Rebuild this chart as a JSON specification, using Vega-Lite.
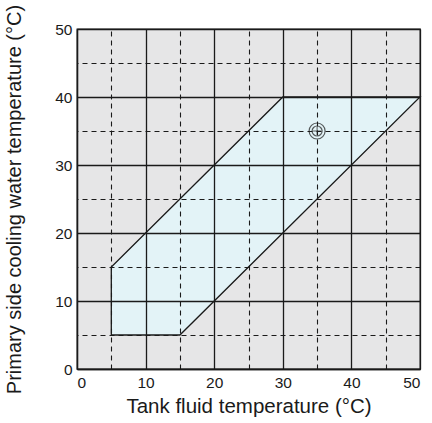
{
  "$schema": "https://vega.github.io/schema/vega-lite/v6.json",
  "width": 343,
  "height": 340,
  "autosize": {"type": "none"},
  "padding": {"left": 77, "top": 29, "right": 12, "bottom": 54},
  "background": "white",
  "config": {
    "view": {"fill": "#e6e6e7", "stroke": "#1a1a1a", "strokeWidth": 1.3},
    "font": "Liberation Sans",
    "axis": {"labelFont": "Liberation Sans", "titleFont": "Liberation Sans", "labelColor": "#1a1a1a", "titleColor": "#1a1a1a", "titleFontWeight": "normal"}
  },
  "datasets": {
    "region": [
      {"x": 5, "lo": 5, "hi": 15},
      {"x": 15, "lo": 5, "hi": 25},
      {"x": 30, "lo": 20, "hi": 40},
      {"x": 50, "lo": 40, "hi": 40}
    ],
    "outline": [
      {"o": 1, "x": 5, "y": 5},
      {"o": 2, "x": 5, "y": 15},
      {"o": 3, "x": 30, "y": 40},
      {"o": 4, "x": 50, "y": 40},
      {"o": 5, "x": 15, "y": 5},
      {"o": 6, "x": 5, "y": 5}
    ],
    "point": [{"x": 35, "y": 35}]
  },
  "layer": [
    {
      "data": {"name": "region"},
      "mark": {"type": "area", "color": "#e3f3f7", "opacity": 1},
      "encoding": {
        "x": {"field": "x", "type": "quantitative", "scale": {"domain": [0, 50], "nice": false},
          "axis": {"orient": "top", "values": [5, 15, 25, 35, 45], "labels": false, "ticks": false, "domain": false, "title": null, "zindex": 1,
            "grid": true, "gridColor": "#1a1a1a", "gridDash": [5, 4], "gridWidth": 1.1}},
        "y": {"field": "lo", "type": "quantitative", "scale": {"domain": [0, 50], "nice": false},
          "axis": {"orient": "right", "values": [5, 15, 25, 35, 45], "labels": false, "ticks": false, "domain": false, "title": null, "zindex": 1,
            "grid": true, "gridColor": "#1a1a1a", "gridDash": [5, 4], "gridWidth": 1.1}},
        "y2": {"field": "hi"}
      }
    },
    {
      "data": {"name": "outline"},
      "mark": {"type": "line", "color": "#1a1a1a", "strokeWidth": 1.3},
      "encoding": {
        "x": {"field": "x", "type": "quantitative", "scale": {"domain": [0, 50], "nice": false},
          "axis": {"orient": "bottom", "values": [0, 10, 20, 30, 40, 50], "grid": true, "gridColor": "#1a1a1a", "gridWidth": 1.3, "gridDash": [], "zindex": 1,
            "domain": true, "domainColor": "#1a1a1a", "domainWidth": 1.3, "ticks": false,
            "labelFontSize": 15.5, "labelPadding": 6, "title": "Tank fluid temperature (°C)", "titleFontSize": 20.5, "titlePadding": 6}},
        "y": {"field": "y", "type": "quantitative", "scale": {"domain": [0, 50], "nice": false},
          "axis": {"orient": "left", "values": [0, 10, 20, 30, 40, 50], "grid": true, "gridColor": "#1a1a1a", "gridWidth": 1.3, "gridDash": [], "zindex": 1,
            "domain": true, "domainColor": "#1a1a1a", "domainWidth": 1.3, "ticks": false,
            "labelFontSize": 15.5, "labelPadding": 5, "title": "Primary side cooling water temperature (°C)", "titleFontSize": 20, "titlePadding": 30}},
        "order": {"field": "o", "type": "quantitative"}
      }
    },
    {
      "data": {"name": "point"},
      "mark": {"type": "point", "filled": false, "stroke": "#1a1a1a", "strokeWidth": 1.2, "size": 256, "shape": "circle"},
      "encoding": {
        "x": {"field": "x", "type": "quantitative", "axis": null},
        "y": {"field": "y", "type": "quantitative", "axis": null}
      }
    },
    {
      "data": {"name": "point"},
      "mark": {"type": "point", "filled": false, "stroke": "#1a1a1a", "strokeWidth": 1.2, "size": 100, "shape": "circle"},
      "encoding": {
        "x": {"field": "x", "type": "quantitative", "axis": null},
        "y": {"field": "y", "type": "quantitative", "axis": null}
      }
    },
    {
      "data": {"name": "point"},
      "mark": {"type": "point", "filled": false, "stroke": "#1a1a1a", "strokeWidth": 1, "size": 64, "shape": "M-1,0L1,0M0,-1L0,1"},
      "encoding": {
        "x": {"field": "x", "type": "quantitative", "axis": null},
        "y": {"field": "y", "type": "quantitative", "axis": null}
      }
    }
  ],
  "resolve": {"axis": {"x": "independent", "y": "independent"}}
}
